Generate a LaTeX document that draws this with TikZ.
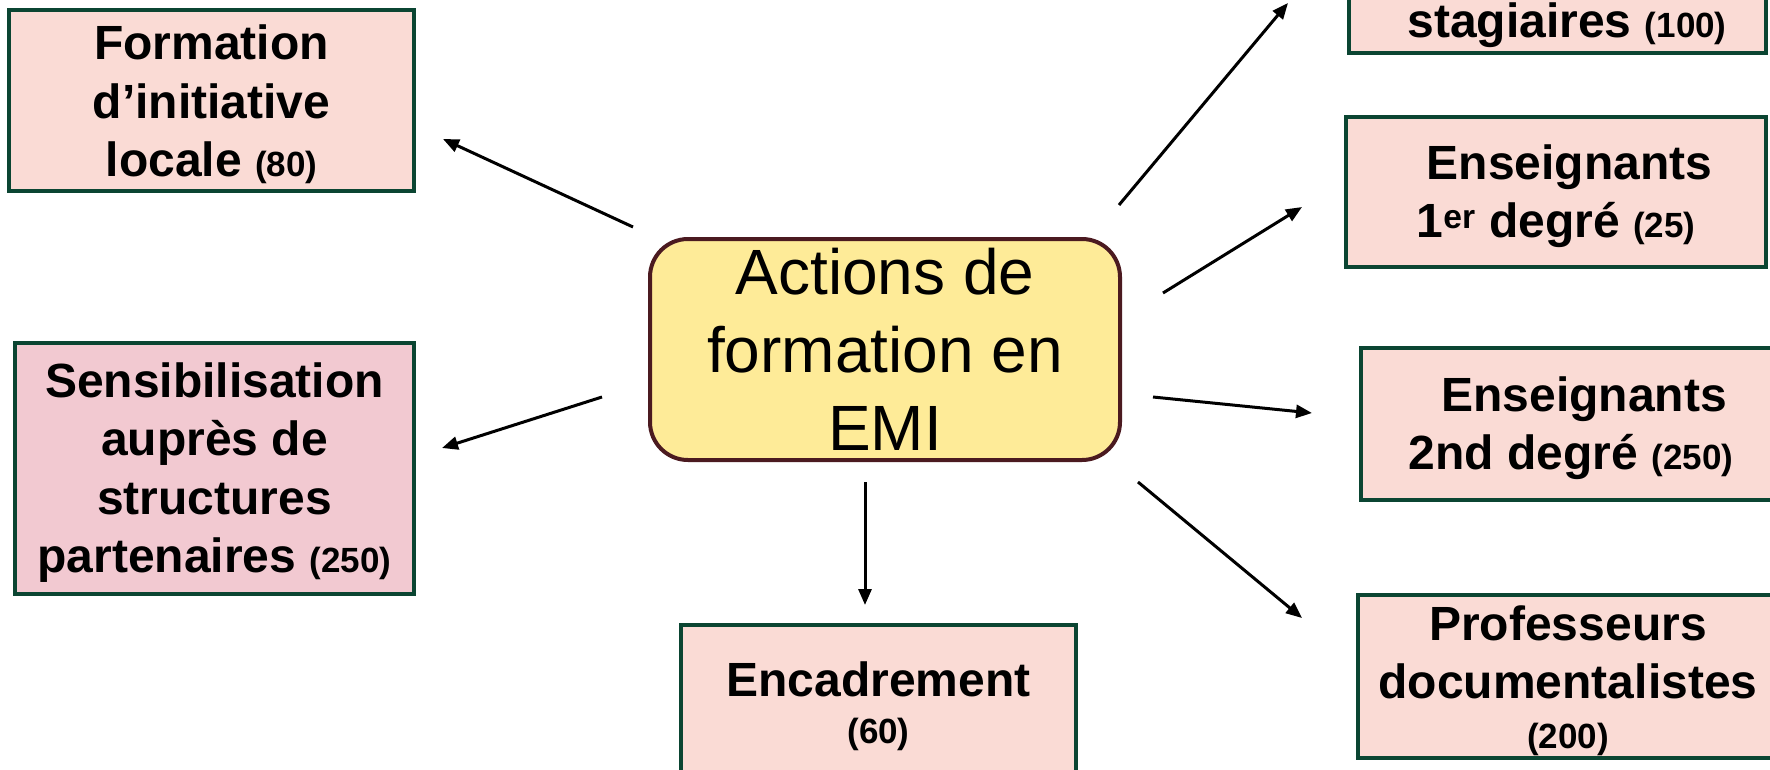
\documentclass[tikz,border=0pt]{standalone}
\usepackage{fontspec}
\setmainfont{Liberation Sans}
\usetikzlibrary{arrows.meta}
\definecolor{boxfill}{HTML}{FADBD5}
\definecolor{sensfill}{HTML}{F2C9D1}
\definecolor{boxline}{HTML}{0B4532}
\definecolor{corefill}{HTML}{FEEB98}
\definecolor{coreline}{HTML}{4B1A20}
\newcommand{\numsmall}[1]{{\fontsize{35}{58}\selectfont #1}}
\newcommand{\topstrut}{\rule{0pt}{43pt}}
\begin{document}
\begin{tikzpicture}[x=1pt,y=-1pt,
  box/.style={draw=boxline, line width=4pt, fill=boxfill, inner sep=0pt, align=center,
    font=\fontsize{48}{58.5}\selectfont\bfseries},
  core/.style={draw=coreline, line width=4pt, fill=corefill, rounded corners=38pt,
    inner sep=0pt, align=center, font=\fontsize{64}{78}\selectfont},
  conn/.style={line width=3pt, -{Triangle[length=16pt,width=13pt]}}]
\useasboundingbox (0,0) rectangle (1770,769);
\clip (0,0) rectangle (1770,769);

% boxes
\node[box, minimum width=405pt, minimum height=181pt] (floc) at (211.5,100.5)
  {\topstrut Formation\\d’initiative\\locale \numsmall{(80)}};
\node[box, minimum width=417pt, minimum height=200pt, anchor=south] (stag) at (1557.5,55) {};
\node[font=\fontsize{48}{58}\selectfont\bfseries, anchor=base, inner sep=0pt] (stagtxt) at (1567,37)
  {stagiaires \numsmall{(100)}};
\node[box, minimum width=420pt, minimum height=150pt] (ens1) at (1556,192)
  {\topstrut\hspace*{27pt}Enseignants\\1\textsuperscript{er} degré \numsmall{(25)}};
\node[box, minimum width=420pt, minimum height=152pt] (ens2) at (1571,424)
  {\topstrut\hspace*{26pt}Enseignants\\2nd degré \numsmall{(250)}};
\node[box, minimum width=420pt, minimum height=163pt] (prof) at (1568,676.5)
  {\topstrut Professeurs\\documentalistes\\[-9pt]\numsmall{(200)}};
\node[box, fill=sensfill, minimum width=399pt, minimum height=251pt] (sens) at (214.5,468.5)
  {\topstrut Sensibilisation\\auprès de\\structures\\partenaires \numsmall{(250)}};
\node[box, minimum width=395pt, minimum height=154pt] (enc) at (878.5,702)
  {\topstrut Encadrement\\[-11pt]\numsmall{(60)}};
\node[core, minimum width=470pt, minimum height=221pt] (core) at (885,349.5)
  {Actions de\\formation en\\EMI};

% connector end points
\coordinate (s1) at (633,227);  \coordinate (t1) at (443,139);
\coordinate (s2) at (602,397);  \coordinate (t2) at (442,448);
\coordinate (s3) at (865,482);  \coordinate (t3) at (865,605);
\coordinate (s4) at (1119,205); \coordinate (t4) at (1288,3);
\coordinate (s5) at (1163,293); \coordinate (t5) at (1302,207);
\coordinate (s6) at (1153,397); \coordinate (t6) at (1312,413);
\coordinate (s7) at (1138,482); \coordinate (t7) at (1302,618);

\draw[conn] (s1) -- (t1);
\draw[conn] (s2) -- (t2);
\draw[conn] (s3) -- (t3);
\draw[conn] (s4) -- (t4);
\draw[conn] (s5) -- (t5);
\draw[conn] (s6) -- (t6);
\draw[conn] (s7) -- (t7);
\end{tikzpicture}
\end{document}
